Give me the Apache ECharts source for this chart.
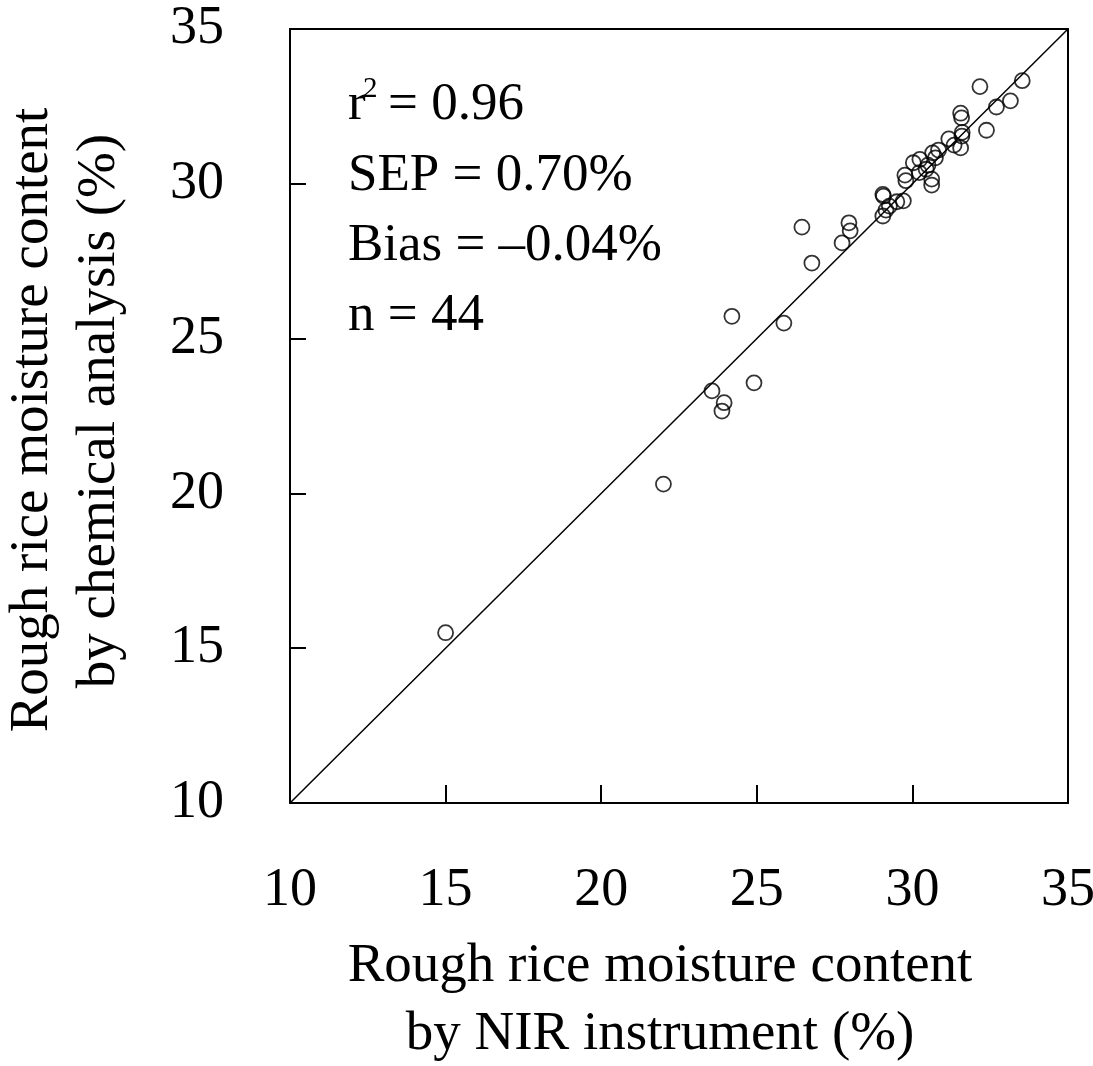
<!DOCTYPE html>
<html><head><meta charset="utf-8">
<script src="https://cdn.jsdelivr.net/npm/echarts@6/dist/echarts.min.js"></script>
<style>html,body{margin:0;padding:0;background:#fff}#c{width:1093px;height:1066px}</style>
</head><body><div id="c"></div>
<script>
// NIR instrument (%) values
var nirX = [15.0, 22.0, 23.56, 23.95, 23.88, 24.91, 24.2, 25.87, 26.45, 26.77, 27.74, 27.96, 28.0,
  29.05, 29.07, 29.15, 29.05, 29.26, 29.5, 29.71, 29.76, 29.79, 30.03, 30.24, 30.22, 30.44, 30.62, 30.62,
  30.65, 30.84, 30.74, 31.17, 31.34, 31.55, 31.59, 31.6, 31.55, 31.58, 32.38, 32.17, 32.7, 33.15, 33.53, 30.5];
// chemical analysis (%) values
var chemY = [15.5, 20.3, 23.31, 22.93, 22.66, 23.57, 25.72, 25.5, 28.6, 27.44, 28.09, 28.74, 28.48,
  29.66, 29.6, 29.15, 28.96, 29.28, 29.42, 29.45, 30.28, 30.1, 30.68, 30.79, 30.36, 30.47, 30.15, 29.96,
  31.0, 31.09, 30.84, 31.45, 31.25, 31.16, 31.54, 31.66, 32.28, 32.13, 31.73, 33.14, 32.48, 32.68, 33.33, 30.6];
var ticks = [10, 15, 20, 25, 30, 35];
var stats = ["= 0.96", "SEP = 0.70%", "Bias = \u20130.04%", "n = 44"];
var xTitle = ["Rough rice moisture content", "by NIR instrument (%)"];
var yTitle = ["Rough rice moisture content", "by chemical analysis (%)"];

var pts = nirX.map(function (x, i) { return [x, chemY[i]]; });
var FF = "'Liberation Serif', 'Times New Roman', serif";
var FS = 54;
var FST = 53;
var FTT = 55;
var chart = echarts.init(document.getElementById('c'), null, {renderer: 'canvas'});
function txt(x, y, s, opt) {
  var st = Object.assign({text: s, x: x, y: y, fontFamily: FF, fontSize: FS, fill: '#000',
    textAlign: 'left', textVerticalAlign: 'middle'}, opt || {});
  return {type: 'text', style: st, z: 10};
}
var axisCommon = {
  type: 'value', min: 10, max: 35, interval: 5,
  axisLine: {show: true, lineStyle: {color: '#000', width: 2}},
  splitLine: {show: false}
};
chart.setOption({
  animation: false,
  backgroundColor: '#fff',
  grid: {left: 290, right: 25, top: 29, bottom: 263, containLabel: false, outerBoundsMode: 'none'},
  xAxis: [
    Object.assign({}, axisCommon, {position: 'bottom',
      axisTick: {show: true, inside: true, length: 18, lineStyle: {color: '#000', width: 2}},
      axisLabel: {margin: 61, fontFamily: FF, fontSize: FS, color: '#000',
        formatter: function (v) { return ticks.indexOf(v) >= 0 ? String(v) : ''; }}}),
    Object.assign({}, axisCommon, {position: 'top', axisTick: {show: false}, axisLabel: {show: false}})
  ],
  yAxis: [
    Object.assign({}, axisCommon, {position: 'left',
      axisTick: {show: true, inside: true, length: 16, lineStyle: {color: '#000', width: 2}},
      axisLabel: {margin: 66, fontFamily: FF, fontSize: FS, color: '#000',
        formatter: function (v) { return ticks.indexOf(v) >= 0 ? String(v) : ''; }}}),
    Object.assign({}, axisCommon, {position: 'right', axisTick: {show: false}, axisLabel: {show: false}})
  ],
  series: [
    {type: 'line', data: [[10, 10], [35, 35]], symbol: 'none',
      lineStyle: {color: '#000', width: 1.5}, silent: true, z: 1},
    {type: 'scatter', data: pts, symbol: 'circle', symbolSize: 15,
      itemStyle: {color: 'rgba(0,0,0,0)', borderColor: '#000', borderWidth: 1.8}, z: 2}
  ],
  graphic: [
    txt(348, 105, 'r', {fontSize: FST}),
    txt(363, 89, '2', {fontSize: 29}),
    txt(388, 105, stats[0], {fontSize: FST}),
    txt(348, 176, stats[1], {fontSize: FST}),
    txt(348, 246, stats[2], {fontSize: FST}),
    txt(348, 316, stats[3], {fontSize: FST}),
    txt(660, 967, xTitle[0], {textAlign: 'center', fontSize: FTT}),
    txt(660, 1035, xTitle[1], {textAlign: 'center', fontSize: FTT}),
    {type: 'text', x: 33, y: 420, rotation: Math.PI / 2,
      style: {text: yTitle[0], fontFamily: FF, fontSize: FTT, fill: '#000', textAlign: 'center', textVerticalAlign: 'middle'}},
    {type: 'text', x: 100, y: 411, rotation: Math.PI / 2,
      style: {text: yTitle[1], fontFamily: FF, fontSize: FTT, fill: '#000', textAlign: 'center', textVerticalAlign: 'middle'}}
  ]
});
</script></body></html>
